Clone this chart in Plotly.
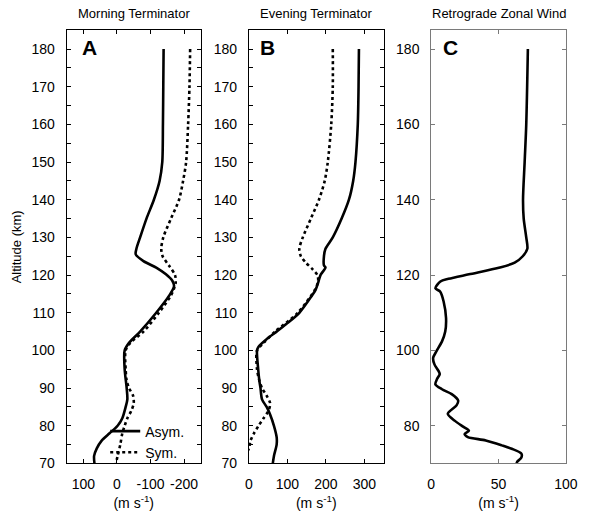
import plotly.graph_objects as go

# ---- Morning terminator (panel A) ----
alt_a_asym = [180, 170, 160, 150, 145, 140, 135, 130, 127, 125.5, 123.7, 122, 120.2, 118.5, 117,
              114.6, 110, 105, 102, 100, 95, 90, 87, 85, 82, 80, 78, 76, 74, 72, 70]
wind_a_asym = [-139, -138, -137, -135, -127, -110, -88, -69, -58, -56, -79, -117, -146, -165, -170,
               -156, -117, -69, -36, -23, -23, -29, -31, -26, -16, -2, 22, 46, 60, 68, 67]
alt_a_sym = [180, 170, 160, 150, 145, 140, 135, 130, 127, 125, 122.4, 120, 118, 116.4, 114.6, 110,
             105, 102, 100, 95, 92, 90, 88, 86, 84, 82, 80, 78, 75, 72, 70]
wind_a_sym = [-218, -216, -212, -206, -197, -185, -161, -138, -132, -136, -156, -173, -175, -170, -161,
              -125, -79, -40, -26, -26, -29, -36, -48, -50, -43, -31, -23, -16, -10, -2, 3]

# ---- Evening terminator (panel B) ----
alt_b_asym = [180, 170, 160, 150, 145, 140, 135, 130, 127, 125, 122.6, 122, 120, 118, 116, 114.6, 110,
              107, 105, 103, 101, 100, 95, 92, 90, 87, 85, 83, 80, 77, 75, 72, 70]
wind_b_asym = [286, 285, 283, 277, 271, 260, 241, 218, 199, 195, 195, 199, 186, 180, 173, 164, 131,
               97, 72, 46, 25, 21, 24, 27, 30, 34, 46, 55, 65, 72, 72, 65, 62]
alt_b_sym = [180, 170, 160, 150, 145, 140, 135, 130, 127, 125, 123.3, 121.6, 120, 118.4, 116.4, 110,
             105, 102, 100, 95, 92, 90, 88, 86, 84, 82, 80, 78, 76, 74, 72, 70]
wind_b_sym = [218, 218, 214, 205, 197, 182, 161, 140, 131, 135, 148, 165, 178, 180, 173, 127,
              68, 38, 21, 21, 27, 34, 46, 55, 51, 38, 25, 13, 4, 0, -10, -20]

# ---- Retrograde zonal wind (panel C) ----
alt_c = [180, 160, 150, 140, 135, 130, 127, 125, 123.3, 122, 120.2, 119, 118.3, 116.5, 115.6, 113,
         108.6, 105, 102.4, 99.8, 98, 96.3, 94.5, 93.7, 92.4, 91, 89.7, 88.4, 86.7, 85.4, 83.2, 81.3,
         79.7, 78.7, 77.8, 77, 76.1, 74.8, 73.9, 72.6, 71.6, 70.5, 70]
wind_c = [71.8, 70.6, 69.4, 68.2, 68.7, 70.6, 71.4, 68, 62, 51, 28, 12.8, 6.8, 3.1, 6.7, 9.2,
          11, 10.4, 8, 3.9, 1.4, 2.4, 5.5, 6.3, 4.3, 3.1, 8, 15.2, 20, 18.8, 12.3, 17.6,
          24, 28, 24.8, 27.2, 40.5, 52.5, 59.8, 67, 67, 64, 63.4]

panel_titles = ["Morning Terminator", "Evening Terminator", "Retrograde Zonal Wind"]
panel_letters = ["A", "B", "C"]
xticks_a = [100, 0, -100, -200]
xticks_b = [0, 100, 200, 300]
xticks_c = [0, 50, 100]
yticks_ab = list(range(70, 181, 5))
yticks_c = list(range(80, 181, 20))

FONT = "Liberation Sans, Arial, sans-serif"
W, H = 597, 519
# panel boxes in pixels: (left, right)
boxes = [(64.3, 202.3), (251.7, 390.0), (439.0, 577.3)]
top_px, bot_px = 30.7, 470.7
ydom = [1 - bot_px / H, 1 - top_px / H]

fig = go.Figure()
solid = dict(color="black", width=2.6, shape="spline", smoothing=0.8)
dotted = dict(color="black", width=2.6, dash="dot", shape="spline", smoothing=0.8)

fig.add_trace(go.Scatter(x=wind_a_asym, y=alt_a_asym, mode="lines", line=solid,
                         name="Asym.", xaxis="x", yaxis="y"))
fig.add_trace(go.Scatter(x=wind_a_sym, y=alt_a_sym, mode="lines", line=dotted,
                         name="Sym.", xaxis="x", yaxis="y"))
fig.add_trace(go.Scatter(x=wind_b_asym, y=alt_b_asym, mode="lines", line=solid,
                         showlegend=False, xaxis="x2", yaxis="y2"))
fig.add_trace(go.Scatter(x=wind_b_sym, y=alt_b_sym, mode="lines", line=dotted,
                         showlegend=False, xaxis="x2", yaxis="y2"))
fig.add_trace(go.Scatter(x=wind_c, y=alt_c, mode="lines", line=solid,
                         showlegend=False, xaxis="x3", yaxis="y3"))

tickfont = dict(family=FONT, size=14, color="black")


def xaxis(i, rng, ticks, color):
    l, r = boxes[i]
    return dict(domain=[l / W, r / W], range=rng, anchor=["y", "y2", "y3"][i],
                tickmode="array", tickvals=ticks, ticktext=[str(t) for t in ticks],
                ticks="inside", ticklen=4, tickcolor=color, tickwidth=1,
                showline=True, linecolor=color, linewidth=1, mirror="ticks",
                showgrid=False, zeroline=False, tickfont=tickfont, ticklabelstandoff=8,
                title=dict(text="(m s<sup>-1</sup>)", font=dict(family=FONT, size=14, color="black"),
                           standoff=6))


def yaxis(i, ticks, labels, color, title=None):
    return dict(domain=ydom, range=[70, 185], anchor=["x", "x2", "x3"][i],
                tickmode="array", tickvals=ticks, ticktext=labels,
                ticks="inside", ticklen=4, tickcolor=color, tickwidth=1,
                showline=True, linecolor=color, linewidth=1, mirror="ticks",
                showgrid=False, zeroline=False, tickfont=tickfont, ticklabelstandoff=8,
                title=title)


ab_labels = [str(t) if t % 10 == 0 else "" for t in yticks_ab]

fig.update_layout(
    width=W, height=H, margin=dict(l=0, r=0, t=0, b=0),
    paper_bgcolor="white", plot_bgcolor="white",
    font=dict(family=FONT, color="black"),
    xaxis=xaxis(0, [150, -250], xticks_a, "black"),
    xaxis2=xaxis(1, [0, 350], xticks_b, "black"),
    xaxis3=xaxis(2, [0, 100], xticks_c, "#7a7a7a"),
    yaxis=yaxis(0, yticks_ab, ab_labels, "black",
                title=dict(text="Altitude (km)", font=dict(family=FONT, size=13, color="black"),
                           standoff=6)),
    yaxis2=yaxis(1, yticks_ab, ab_labels, "black"),
    yaxis3=yaxis(2, yticks_c, [str(t) for t in yticks_c], "#7a7a7a"),
    legend=dict(x=104 / W, y=1 - 422 / H, xanchor="left", yanchor="top",
                bgcolor="rgba(0,0,0,0)", borderwidth=0,
                font=dict(family=FONT, size=14, color="black"),
                tracegroupgap=0, itemwidth=30),
    showlegend=True,
)

annotations = []
for i, (l, r) in enumerate(boxes):
    annotations.append(dict(text=panel_titles[i], x=(l + r) / 2 / W, y=1 - 14 / H,
                            xref="paper", yref="paper", showarrow=False,
                            font=dict(family=FONT, size=13, color="black"),
                            xanchor="center", yanchor="middle"))
letter_off = [14, 9, 10]
for i, (l, r) in enumerate(boxes):
    annotations.append(dict(text="<b>%s</b>" % panel_letters[i], x=(l + letter_off[i]) / W,
                            y=1 - 48 / H, xref="paper", yref="paper", showarrow=False,
                            font=dict(family=FONT, size=21, color="black"),
                            xanchor="left", yanchor="middle"))
fig.update_layout(annotations=annotations)

fig.write_html("out.html")
